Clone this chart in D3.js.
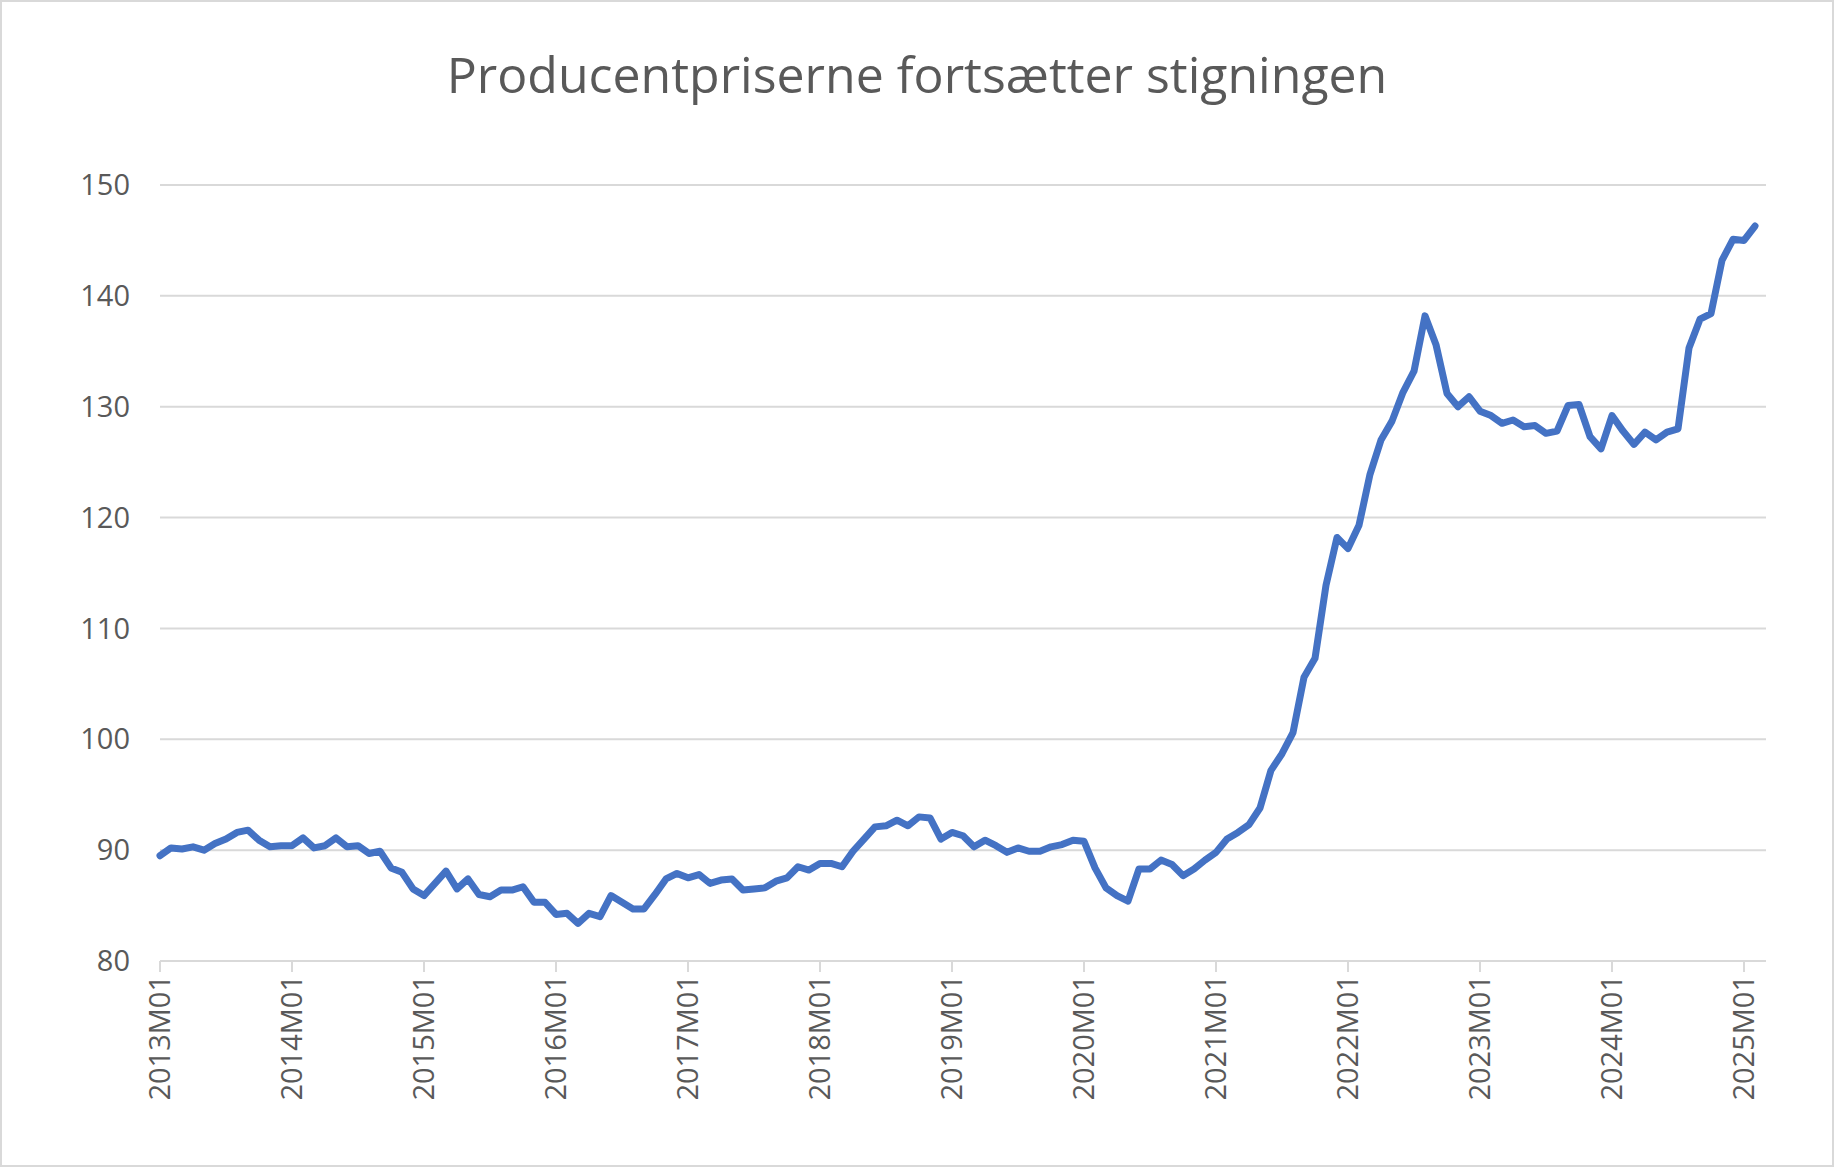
<!DOCTYPE html>
<html><head><meta charset="utf-8">
<script src="https://cdn.jsdelivr.net/npm/d3@7"></script>
<style>body{margin:0;background:#fff}svg{display:block}</style>
</head><body><div id="chart-area"></div>
<script>
const years = ["2013","2014","2015","2016","2017","2018","2019","2020","2021","2022","2023","2024","2025"];
const yTicks = [80, 90, 100, 110, 120, 130, 140, 150];
const values = [
  89.5, 90.2, 90.1, 90.3, 90.0, 90.6, 91.0, 91.6, 91.8, 90.9, 90.3, 90.4,
  90.4, 91.1, 90.2, 90.4, 91.1, 90.3, 90.4, 89.7, 89.9, 88.4, 88.0, 86.5,
  85.9, 87.0, 88.1, 86.5, 87.4, 86.0, 85.8, 86.4, 86.4, 86.7, 85.3, 85.3,
  84.2, 84.3, 83.4, 84.3, 84.0, 85.9, 85.3, 84.7, 84.7, 86.0, 87.4, 87.9,
  87.5, 87.8, 87.0, 87.3, 87.4, 86.4, 86.5, 86.6, 87.2, 87.5, 88.5, 88.2,
  88.8, 88.8, 88.5, 89.9, 91.0, 92.1, 92.2, 92.7, 92.2, 93.0, 92.9, 91.0,
  91.6, 91.3, 90.3, 90.9, 90.4, 89.8, 90.2, 89.9, 89.9, 90.3, 90.5, 90.9,
  90.8, 88.4, 86.6, 85.9, 85.4, 88.3, 88.3, 89.1, 88.7, 87.7, 88.3, 89.1,
  89.8, 91.0, 91.6, 92.3, 93.8, 97.2, 98.7, 100.6, 105.6, 107.3, 113.9, 118.2,
  117.2, 119.3, 123.9, 127.0, 128.7, 131.3, 133.2, 138.2, 135.6, 131.2, 130.0, 130.9,
  129.6, 129.2, 128.5, 128.8, 128.2, 128.3, 127.6, 127.8, 130.1, 130.2, 127.3, 126.2,
  129.2, 127.8, 126.6, 127.7, 127.0, 127.7, 128.0, 135.3, 137.9, 138.4, 143.2, 145.1,
  145.0, 146.3
];

const W = 1834, H = 1167;
const plot = { left: 160, right: 1766, top: 185, bottom: 961 };
const font = "'Open Sans', 'Liberation Sans', sans-serif";

const svg = d3.select("#chart-area").append("svg").attr("width", W).attr("height", H);
svg.append("rect").attr("x", 1).attr("y", 1).attr("width", W - 2).attr("height", H - 2)
  .attr("fill", "#fff").attr("stroke", "#d9d9d9").attr("stroke-width", 2);

const x = d3.scaleLinear().domain([0, 146]).range([plot.left, plot.right]);
const y = d3.scaleLinear().domain([80, 150]).range([plot.bottom, plot.top]);

svg.append("text").attr("x", W / 2).attr("y", 93).attr("text-anchor", "middle")
  .attr("font-family", font).attr("font-size", 50).attr("fill", "#595959")
  .text("Producentpriserne fortsætter stigningen");

svg.append("g").selectAll("line").data(yTicks.slice(1)).join("line")
  .attr("x1", plot.left).attr("x2", plot.right).attr("y1", d => y(d)).attr("y2", d => y(d))
  .attr("stroke", "#d9d9d9").attr("stroke-width", 2);

svg.append("g").selectAll("text").data(yTicks).join("text")
  .attr("x", plot.left - 30).attr("y", d => y(d)).attr("dy", "0.35em").attr("text-anchor", "end")
  .attr("font-family", font).attr("font-size", 29).attr("fill", "#595959").text(d => d);

const xAxis = svg.append("g");
xAxis.append("line").attr("x1", plot.left).attr("x2", plot.right).attr("y1", plot.bottom).attr("y2", plot.bottom)
  .attr("stroke", "#d9d9d9").attr("stroke-width", 2);
xAxis.selectAll(".tk").data(years).join("line").attr("class", "tk")
  .attr("x1", (d, i) => x(i * 12)).attr("x2", (d, i) => x(i * 12))
  .attr("y1", plot.bottom).attr("y2", plot.bottom + 11).attr("stroke", "#d9d9d9").attr("stroke-width", 2);
xAxis.selectAll("text").data(years).join("text")
  .attr("transform", (d, i) => `translate(${x(i * 12) + 10}, ${plot.bottom + 14}) rotate(-90)`)
  .attr("text-anchor", "end").attr("font-family", font).attr("font-size", 29).attr("fill", "#595959")
  .text(d => d + "M01");

const line = d3.line().x((d, i) => x(i)).y(d => y(d));
svg.append("path").datum(values).attr("d", line).attr("fill", "none")
  .attr("stroke", "#4472C4").attr("stroke-width", 7).attr("stroke-linejoin", "round").attr("stroke-linecap", "round");
</script></body></html>
